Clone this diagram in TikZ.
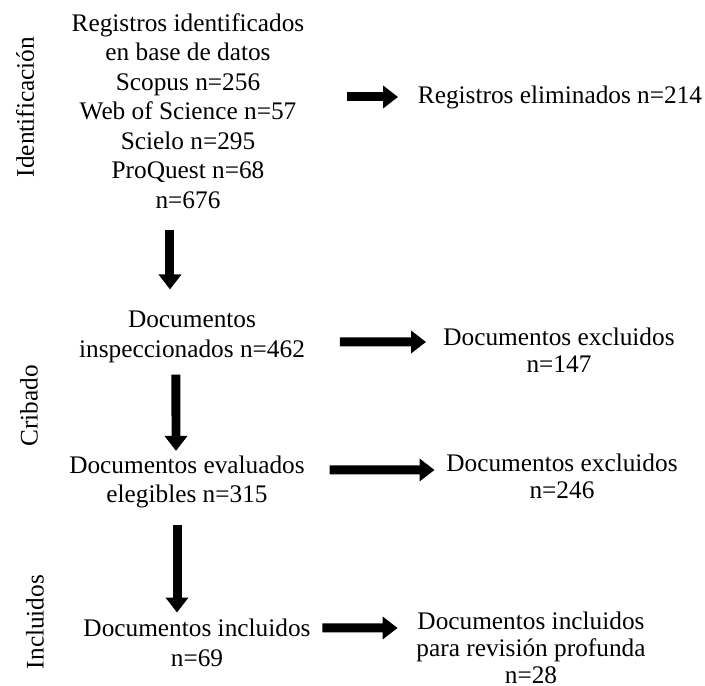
\documentclass[tikz,border=0pt]{standalone}
\usepackage{fontspec}
\setmainfont{Liberation Serif}
\usetikzlibrary{arrows.meta}

\tikzset{
    txt/.style={align=center, inner sep=2pt, font=\fontsize{14.4}{17}\selectfont},
    side/.style={align=center, inner sep=2pt, font=\fontsize{14.4}{15.4}\selectfont},
    phase/.style={rotate=90, inner sep=2pt, font=\fontsize{14.4}{16}\selectfont},
    bigarrow/.style={line width=0.18cm, -{Triangle[length=0.3cm,width=0.44cm]}}
}

\begin{document}
\begin{tikzpicture}

    % Picture frame
    \useasboundingbox (0,0) rectangle (14.1,13.72);

    % Phase labels
    \node[phase] (lident) at (0.50,11.58) {Identificación};
    \node[phase] (lcrib) at (0.58,5.60) {Cribado};
    \node[phase] (lincl) at (0.70,1.28) {Incluidos};

    % Main column
    \node[txt, font=\fontsize{14.4}{16.8}\selectfont] (ident) at (3.76,11.50)
        {Registros identificados\\en base de datos\\Scopus n=256\\Web of Science n=57\\Scielo n=295\\ProQuest n=68\\n=676};
    \node[txt] (insp) at (3.84,6.98) {Documentos\\inspeccionados n=462};
    \node[txt] (eval) at (3.74,4.08) {Documentos evaluados\\elegibles n=315};
    \node[txt] (incl) at (3.94,0.86) {Documentos incluidos\\n=69};

    % Side column
    \node[side] (elim) at (11.20,11.78) {Registros eliminados n=214};
    \node[side] (excl1) at (11.18,6.72) {Documentos excluidos\\n=147};
    \node[side] (excl2) at (11.24,4.20) {Documentos excluidos\\n=246};
    \node[side] (prof) at (10.62,0.77)
        {Documentos incluidos\\para revisión profunda\\n=28};

    % Down arrows
    \draw[bigarrow] ([xshift=-0.36cm,yshift=-0.36cm]ident.south) -- ([xshift=-0.44cm,yshift=0.355cm]insp.north);
    \draw[bigarrow] ([xshift=-0.32cm,yshift=-0.155cm]insp.south) -- ([xshift=-0.22cm,yshift=0.015cm]eval.north);
    \draw[bigarrow] ([xshift=-0.20cm,yshift=-0.255cm]eval.south) -- ([xshift=-0.40cm,yshift=0.055cm]incl.north);

    % Side arrows
    \draw[bigarrow] ([xshift=0.78cm]ident.east |- elim.west) -- ([xshift=-0.32cm]elim.west);
    \draw[bigarrow] ([xshift=0.62cm,yshift=-0.10cm]insp.east) -- ([xshift=-0.27cm,yshift=0.16cm]excl1.west);
    \draw[bigarrow] ([xshift=0.42cm,yshift=0.24cm]eval.east) -- ([xshift=-0.16cm,yshift=0.12cm]excl2.west);
    \draw[bigarrow] ([xshift=0.16cm,yshift=0.30cm]incl.east) -- ([xshift=-0.30cm,yshift=0.39cm]prof.west);

\end{tikzpicture}
\end{document}
